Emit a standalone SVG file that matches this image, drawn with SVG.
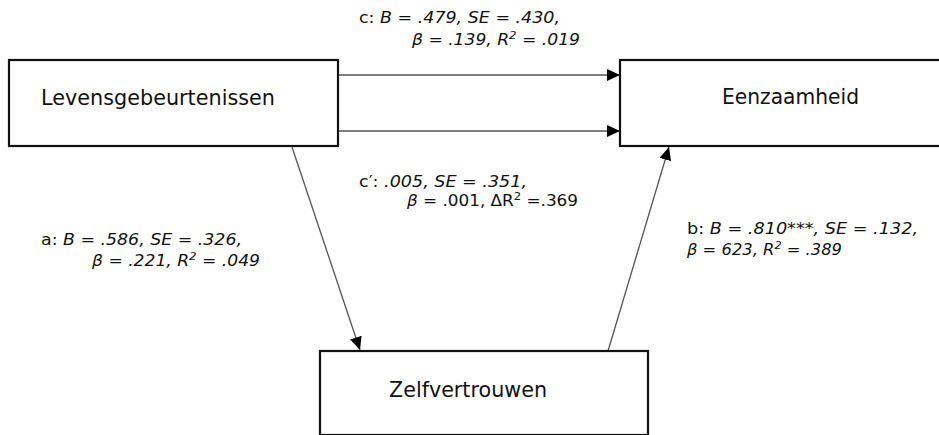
<svg xmlns="http://www.w3.org/2000/svg" width="939" height="435" viewBox="0 0 939 435">
<style>
.box{fill:#fff;stroke:#111;stroke-width:2.2}
.node{font-family:"DejaVu Sans","Verdana",sans-serif;font-size:20.5px;fill:#111}
.lab{font-family:"DejaVu Sans","Verdana",sans-serif;font-size:16px;fill:#111}
.it{font-style:italic}
.sup{font-size:11px}
.con{stroke:#555;stroke-width:1.3;fill:none}
</style>
<defs>
<marker id="ah" markerWidth="14" markerHeight="12" refX="13" refY="6" orient="auto" markerUnits="userSpaceOnUse">
<path d="M0,0 L13,6 L0,12 Z" fill="#000"/>
</marker>
</defs>
<rect width="939" height="435" fill="#fff"/>
<g id="connectors">
<line class="con" x1="339" y1="75" x2="620" y2="75" marker-end="url(#ah)"/>
<line class="con" x1="339" y1="131" x2="620" y2="131" marker-end="url(#ah)"/>
<line class="con" x1="292" y1="147" x2="360" y2="350" marker-end="url(#ah)"/>
<line class="con" x1="608" y1="351" x2="669" y2="147" marker-end="url(#ah)"/>
</g>
<g id="node-levensgebeurtenissen">
<rect class="box" x="9" y="60" width="329" height="86"/>
<text class="node" x="41" y="105" textLength="234" lengthAdjust="spacingAndGlyphs">Levensgebeurtenissen</text>
</g>
<g id="node-eenzaamheid">
<rect class="box" x="620" y="60" width="330" height="86"/>
<text class="node" x="722" y="104" textLength="137" lengthAdjust="spacingAndGlyphs">Eenzaamheid</text>
</g>
<g id="node-zelfvertrouwen">
<rect class="box" x="320" y="351" width="328" height="84"/>
<text class="node" x="389" y="397" textLength="158" lengthAdjust="spacingAndGlyphs">Zelfvertrouwen</text>
</g>
<g id="labels">
<text class="lab" x="359" y="23" textLength="201" lengthAdjust="spacingAndGlyphs">c: <tspan class="it">B = .479, SE = .430,</tspan></text>
<text class="lab it" x="412" y="45" textLength="168" lengthAdjust="spacingAndGlyphs">β = .139, R<tspan class="sup" dy="-6">2</tspan><tspan dy="6"> = .019</tspan></text>
<text class="lab" x="359" y="187" textLength="168" lengthAdjust="spacingAndGlyphs">c′: <tspan class="it">.005, SE = .351,</tspan></text>
<text class="lab" x="407" y="206" textLength="171" lengthAdjust="spacingAndGlyphs"><tspan class="it">β</tspan> = .001, ΔR<tspan class="sup" dy="-6">2</tspan><tspan dy="6"> =.369</tspan></text>
<text class="lab" x="41" y="245" textLength="201" lengthAdjust="spacingAndGlyphs">a: <tspan class="it">B = .586, SE = .326,</tspan></text>
<text class="lab it" x="92" y="266" textLength="168" lengthAdjust="spacingAndGlyphs">β = .221, R<tspan class="sup" dy="-6">2</tspan><tspan dy="6"> = .049</tspan></text>
<text class="lab" x="687" y="234" textLength="231" lengthAdjust="spacingAndGlyphs">b: <tspan class="it">B = .810***, SE = .132,</tspan></text>
<text class="lab it" x="687" y="255" textLength="155" lengthAdjust="spacingAndGlyphs">β = 623, R<tspan class="sup" dy="-6">2</tspan><tspan dy="6"> = .389</tspan></text>
</g>
</svg>
